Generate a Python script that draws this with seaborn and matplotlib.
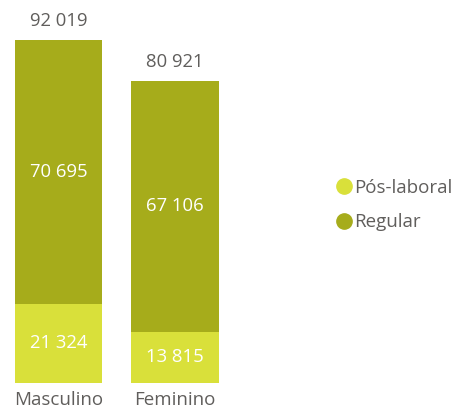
import matplotlib
matplotlib.use("Agg")
import matplotlib.pyplot as plt
import seaborn as sns
import pandas as pd
from matplotlib.lines import Line2D

categories = ["Masculino", "Feminino"]
pos_laboral = [21324, 13815]
regular = [70695, 67106]
series_names = ["Pós-laboral", "Regular"]

sns.set_theme(style="white")
plt.rcParams["font.family"] = ["Open Sans", "DejaVu Sans"]

c_light = "#D9E03A"
c_dark = "#A6AC1B"
txt = "#605E5C"

totals = [p + r for p, r in zip(pos_laboral, regular)]
df = pd.DataFrame({"cat": categories, "pos": pos_laboral, "reg": regular, "tot": totals})

fig = plt.figure(figsize=(4.61, 4.11), dpi=100)
ax = fig.add_axes([0.0, 28 / 411, 233.5 / 461, 343 / 411])

sns.barplot(data=df, x="cat", y="tot", color=c_dark, width=0.75, saturation=1,
            linewidth=0, ax=ax)
sns.barplot(data=df, x="cat", y="pos", color=c_light, width=0.75, saturation=1,
            linewidth=0, ax=ax)

ax.set_ylim(0, max(totals))
ax.set_xlim(-0.5, 1.5)
for s in ax.spines.values():
    s.set_visible(False)
ax.set_yticks([])
ax.set_xlabel("")
ax.set_ylabel("")
ax.tick_params(axis="x", length=0, pad=6, labelsize=13.5, labelcolor=txt)

fmt = lambda v: f"{v:,}".replace(",", " ")
for i in range(len(categories)):
    ax.text(i, pos_laboral[i] / 2, fmt(pos_laboral[i]), ha="center", va="center",
            color="white", fontsize=13.3)
    ax.text(i, pos_laboral[i] + regular[i] / 2, fmt(regular[i]), ha="center", va="center",
            color="white", fontsize=13.3)
    ax.annotate(fmt(totals[i]), (i, totals[i]), xytext=(0, 19), textcoords="offset pixels",
                ha="center", va="center", color=txt, fontsize=13.3, annotation_clip=False)

handles = [Line2D([], [], marker="o", linestyle="", markersize=11, color=c)
           for c in (c_light, c_dark)]
fig.legend(handles, series_names, loc="center left", bbox_to_anchor=(324 / 461, 1 - 205 / 411),
           frameon=False, fontsize=13.5, labelcolor=txt, handletextpad=0.0,
           labelspacing=0.9, handlelength=1.1, borderpad=0)

fig.savefig("out.png", dpi=100)
